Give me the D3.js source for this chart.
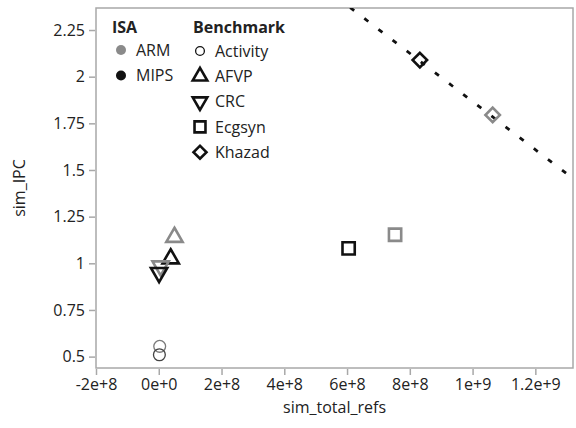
<!DOCTYPE html>
<html>
<head>
<meta charset="utf-8">
<script src="https://cdn.jsdelivr.net/npm/d3@7"></script>
<style>
  body { margin: 0; background: #fff; }
  text { font-family: "Open Sans", "Noto Sans", sans-serif; fill: #222; }
</style>
</head>
<body>
<div id="chart"></div>
<script>
// data
var isas = ["ARM", "MIPS"];
var benchmarks = ["Activity", "AFVP", "CRC", "Ecgsyn", "Khazad"];
var pointBench = ["Activity", "Activity", "AFVP", "AFVP", "CRC", "CRC", "Ecgsyn", "Ecgsyn", "Khazad", "Khazad"];
var pointIsa   = ["ARM", "MIPS", "ARM", "MIPS", "ARM", "MIPS", "ARM", "MIPS", "ARM", "MIPS"];
var totalRefs  = [3e6, 2e6, 5.0e7, 3.8e7, 6e6, 1e6, 7.53e8, 6.05e8, 1.064e9, 8.32e8];
var simIPC     = [0.555, 0.51, 1.14, 1.025, 0.985, 0.95, 1.153, 1.08, 1.795, 2.089];
var xTicks = [-2e8, 0, 2e8, 4e8, 6e8, 8e8, 1e9, 1.2e9];
var xTickLabels = ["-2e+8", "0e+0", "2e+8", "4e+8", "6e+8", "8e+8", "1e+9", "1.2e+9"];
var yTicks = [0.5, 0.75, 1, 1.25, 1.5, 1.75, 2, 2.25];
var yTickLabels = ["0.5", "0.75", "1", "1.25", "1.5", "1.75", "2", "2.25"];
// dotted reference line: sim_IPC = lineIntercept + lineSlope * sim_total_refs
var lineIntercept = 3.157;
var lineSlope = -1.29e-9;

var margin = {top: 8, right: 3, bottom: 60, left: 96},
    width = 576 - margin.left - margin.right,
    height = 428 - margin.top - margin.bottom;

var fontSize = "16px";

var x = d3.scaleLinear().domain([-2e8, 1.32e9]).range([0, width]);
var y = d3.scaleLinear().domain([0.439, 2.368]).range([height, 0]);

var isaColor = d3.scaleOrdinal().domain(isas).range(["#8a8a8a", "#111111"]);

var shapes = {
  "Activity": {type: d3.symbolCircle, size: 110, rot: 0, sw: 1.3},
  "AFVP":     {type: d3.symbolTriangle, size: 115, rot: 0, sw: 2.6},
  "CRC":      {type: d3.symbolTriangle, size: 115, rot: 180, sw: 2.6},
  "Ecgsyn":   {type: d3.symbolSquare, size: 150, rot: 0, sw: 2.6},
  "Khazad":   {type: d3.symbolSquare, size: 105, rot: 45, sw: 2.6}
};

var svg = d3.select("#chart")
    .append("svg")
        .attr("width", 576)
        .attr("height", 428)
    .append("g")
        .attr("transform", "translate(" + margin.left + "," + margin.top + ")");

svg.append("clipPath")
    .attr("id", "clip")
  .append("rect")
    .attr("width", width)
    .attr("height", height);

// frame
svg.append("rect")
    .attr("width", width)
    .attr("height", height)
    .attr("fill", "none")
    .attr("stroke", "#a8a8a8")
    .attr("stroke-width", 1.5);

// X axis
var xAxis = d3.axisBottom(x)
    .tickValues(xTicks)
    .tickSize(6)
    .tickPadding(4)
    .tickFormat(function(d, i) { return xTickLabels[i]; });

var gx = svg.append("g")
    .attr("transform", "translate(0," + (height + 1) + ")")
    .call(xAxis);
gx.select(".domain").remove();
gx.selectAll("line").attr("stroke", "#a8a8a8").attr("stroke-width", 1.5);
gx.selectAll("text").style("font-size", fontSize).attr("fill", "#222");

// Y axis
var yAxis = d3.axisLeft(y)
    .tickValues(yTicks)
    .tickSize(6)
    .tickPadding(4)
    .tickFormat(function(d, i) { return yTickLabels[i]; });

var gy = svg.append("g")
    .attr("transform", "translate(-1,0)")
    .call(yAxis);
gy.select(".domain").remove();
gy.selectAll("line").attr("stroke", "#a8a8a8").attr("stroke-width", 1.5);
gy.selectAll("text").style("font-size", fontSize).attr("fill", "#222");

// axis titles
svg.append("text")
    .attr("transform", "translate(" + (width / 2) + "," + (height + 45) + ")")
    .style("text-anchor", "middle")
    .style("font-size", fontSize)
    .text("sim_total_refs");

svg.append("text")
    .attr("transform", "rotate(-90)")
    .attr("x", 0 - height / 2)
    .attr("y", 0 - margin.left + 25)
    .style("text-anchor", "middle")
    .style("font-size", fontSize)
    .text("sim_IPC");

// dotted line
var x0 = x.domain()[0], x1 = x.domain()[1];
svg.append("line")
    .attr("clip-path", "url(#clip)")
    .attr("x1", x(x0))
    .attr("y1", y(lineIntercept + lineSlope * x0))
    .attr("x2", x(x1))
    .attr("y2", y(lineIntercept + lineSlope * x1))
    .attr("stroke", "#111")
    .attr("stroke-width", 2.8)
    .attr("stroke-dasharray", "5,12.8");

// points
var points = totalRefs.map(function(d, i) {
  return {refs: d, ipc: simIPC[i], bench: pointBench[i], isa: pointIsa[i]};
});

svg.append("g").selectAll("path")
    .data(points)
  .enter().append("path")
    .attr("d", function(d) { return d3.symbol().type(shapes[d.bench].type).size(shapes[d.bench].size)(); })
    .attr("transform", function(d) {
      return "translate(" + x(d.refs) + "," + y(d.ipc) + ") rotate(" + shapes[d.bench].rot + ")";
    })
    .attr("fill", "none")
    .attr("stroke", function(d) { return d.bench == "Activity" ? (d.isa == "ARM" ? "#7a7a7a" : "#444") : isaColor(d.isa); })
    .attr("stroke-width", function(d) { return shapes[d.bench].sw; });

// legend
var legend = svg.append("g").attr("transform", "translate(16,0)");

legend.append("text")
    .attr("x", 0)
    .attr("y", 25)
    .style("font-size", fontSize)
    .style("font-weight", "bold")
    .text("ISA");

legend.selectAll(".isaItem")
    .data(isas)
  .enter().append("circle")
    .attr("cx", 9)
    .attr("cy", function(d, i) { return 42 + i * 25.5; })
    .attr("r", 5)
    .attr("fill", function(d) { return isaColor(d); });

legend.selectAll(".isaLabel")
    .data(isas)
  .enter().append("text")
    .attr("x", 24)
    .attr("y", function(d, i) { return 42 + i * 25.5; })
    .attr("dy", "0.35em")
    .style("font-size", fontSize)
    .text(function(d) { return d; });

var legend2 = svg.append("g").attr("transform", "translate(97,0)");

legend2.append("text")
    .attr("x", 0)
    .attr("y", 25)
    .style("font-size", fontSize)
    .style("font-weight", "bold")
    .text("Benchmark");

legend2.selectAll("path")
    .data(benchmarks)
  .enter().append("path")
    .attr("d", function(d) {
      var s = shapes[d];
      var size = d == "Activity" ? 60 : s.size * 0.8;
      return d3.symbol().type(s.type).size(size)();
    })
    .attr("transform", function(d, i) {
      return "translate(7," + (43 + i * 25.3) + ") rotate(" + shapes[d].rot + ")";
    })
    .attr("fill", "none")
    .attr("stroke", "#111")
    .attr("stroke-width", function(d) { return shapes[d].sw; });

legend2.selectAll(".benchLabel")
    .data(benchmarks)
  .enter().append("text")
    .attr("x", 22)
    .attr("y", function(d, i) { return 43 + i * 25.3; })
    .attr("dy", "0.35em")
    .style("font-size", fontSize)
    .text(function(d) { return d; });
</script>
</body>
</html>
